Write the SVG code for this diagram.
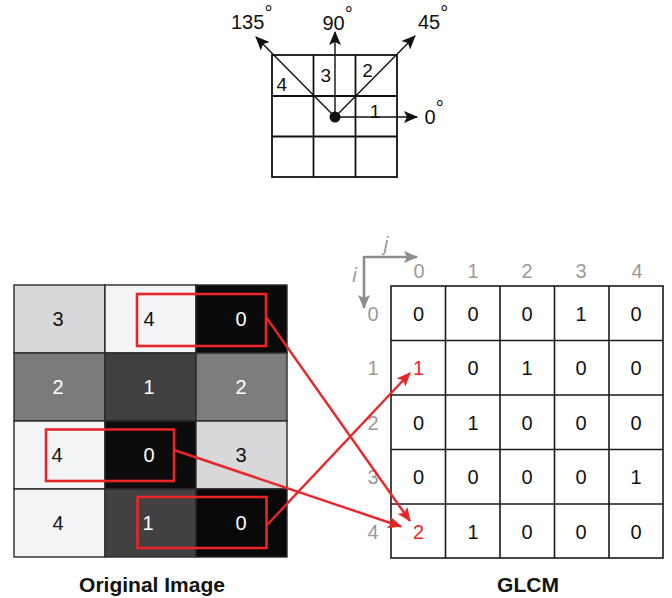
<svg xmlns="http://www.w3.org/2000/svg" width="672" height="598" viewBox="0 0 672 598">
  <style>
    text { font-family: "Liberation Sans", Arial, Helvetica, sans-serif; }
    .num { font-size: 20px; text-anchor: middle; fill: #111; }
    .wnum { font-size: 20px; text-anchor: middle; fill: #fff; }
    .hdr { font-size: 20px; text-anchor: middle; fill: #9a9a9a; }
    .red { fill: #e8262a; }
    .kn { font-size: 19px; text-anchor: middle; fill: #111; }
    .deg { font-size: 20px; fill: #111; }
    .title { font-size: 21px; font-weight: bold; text-anchor: middle; fill: #111; }
    .kline { stroke: #111; stroke-width: 1.4; fill: none; }
    .kgrid { stroke: #111; stroke-width: 1.8; fill: none; }
    .cell { stroke: #2a2a2a; stroke-width: 1.4; }
    .gcell { fill: #fff; stroke: #1a1a1a; stroke-width: 1.6; }
    .sel { fill: none; stroke: #e8262a; stroke-width: 2.6; }
    .link { stroke: #e8262a; stroke-width: 2.4; fill: none; }
    .axis { stroke: #8c8c8c; stroke-width: 2.6; fill: none; }
  </style>
  <defs>
    <marker id="blackHead" markerUnits="userSpaceOnUse" markerWidth="14" markerHeight="12" refX="13" refY="6" orient="auto">
      <path d="M0,0 L14,6 L0,12 L3,6 Z" fill="#111"/>
    </marker>
    <marker id="redHead" markerUnits="userSpaceOnUse" markerWidth="14" markerHeight="12" refX="13" refY="6" orient="auto">
      <path d="M0,0 L14,6 L0,12 L3,6 Z" fill="#e8262a"/>
    </marker>
    <marker id="grayHead" markerUnits="userSpaceOnUse" markerWidth="14" markerHeight="12" refX="13" refY="6" orient="auto">
      <path d="M0,0 L14,6 L0,12 L3,6 Z" fill="#8c8c8c"/>
    </marker>
  </defs>

  <!-- Neighbourhood kernel with the four directions -->
  <g id="kernel">
    <rect class="kgrid" x="272" y="55" width="125" height="122"/>
    <line class="kgrid" x1="313.5" y1="55" x2="313.5" y2="177"/>
    <line class="kgrid" x1="355.5" y1="55" x2="355.5" y2="177"/>
    <line class="kgrid" x1="272" y1="96" x2="397" y2="96"/>
    <line class="kgrid" x1="272" y1="136.5" x2="397" y2="136.5"/>
    <line class="kline" x1="335" y1="117" x2="417" y2="117" marker-end="url(#blackHead)"/>
    <line class="kline" x1="335" y1="117" x2="335" y2="32" marker-end="url(#blackHead)"/>
    <line class="kline" x1="335" y1="117" x2="415" y2="36" marker-end="url(#blackHead)"/>
    <line class="kline" x1="335" y1="117" x2="256" y2="37" marker-end="url(#blackHead)"/>
    <circle cx="335" cy="117" r="5.5" fill="#111"/>
    <text class="kn" x="281.7" y="90.7">4</text>
    <text class="kn" x="325.8" y="81.7">3</text>
    <text class="kn" x="367.5" y="76.7">2</text>
    <text class="kn" x="375" y="118.3">1</text>
    <text class="deg" x="231" y="28.5">135<tspan dy="-9">°</tspan></text>
    <text class="deg" x="322.5" y="30">90<tspan dy="-9">°</tspan></text>
    <text class="deg" x="418" y="28.5">45<tspan dy="-9">°</tspan></text>
    <text class="deg" x="424.5" y="124">0<tspan dy="-9">°</tspan></text>
  </g>

  <!-- Original image: 4 x 3 grey levels -->
  <g id="original-image">
    <rect class="cell" x="14" y="285" width="91" height="68" fill="#d8d8da"/>
    <rect class="cell" x="105" y="285" width="91" height="68" fill="#f2f4f6"/>
    <rect class="cell" x="196" y="285" width="91" height="68" fill="#0a0a0a"/>
    <rect class="cell" x="14" y="353" width="91" height="68" fill="#7b7b7b"/>
    <rect class="cell" x="105" y="353" width="91" height="68" fill="#404040"/>
    <rect class="cell" x="196" y="353" width="91" height="68" fill="#7d7d7d"/>
    <rect class="cell" x="14" y="421" width="91" height="68" fill="#f3f4f6"/>
    <rect class="cell" x="105" y="421" width="91" height="68" fill="#0c0c0c"/>
    <rect class="cell" x="196" y="421" width="91" height="68" fill="#d8d8da"/>
    <rect class="cell" x="14" y="489" width="91" height="68" fill="#f3f4f6"/>
    <rect class="cell" x="105" y="489" width="91" height="68" fill="#414141"/>
    <rect class="cell" x="196" y="489" width="91" height="68" fill="#080808"/>

    <text class="num" x="58" y="326">3</text>
    <text class="num" x="149" y="326">4</text>
    <text class="wnum" x="241" y="326">0</text>
    <text class="wnum" x="58" y="394">2</text>
    <text class="wnum" x="149" y="394">1</text>
    <text class="wnum" x="241" y="394">2</text>
    <text class="num" x="57" y="462">4</text>
    <text class="wnum" x="149" y="462">0</text>
    <text class="num" x="241" y="462">3</text>
    <text class="num" x="58" y="530">4</text>
    <text class="wnum" x="148" y="530">1</text>
    <text class="wnum" x="241" y="530">0</text>

    <rect class="sel" x="137" y="294" width="129" height="52"/>
    <rect class="sel" x="46" y="429.5" width="128" height="51.5"/>
    <rect class="sel" x="137.5" y="497" width="129" height="51"/>

    <text class="title" x="152" y="592" font-size="22">Original Image</text>
  </g>

  <!-- GLCM: 5 x 5 co-occurrence counts -->
  <g id="glcm">
    <line class="axis" x1="364" y1="257" x2="417" y2="257" marker-end="url(#grayHead)"/>
    <line class="axis" x1="364" y1="256" x2="364" y2="308" marker-end="url(#grayHead)"/>
    <text x="386" y="251" font-size="20" font-style="italic" fill="#9a9a9a" text-anchor="middle">j</text>
    <text x="354.5" y="282" font-size="20" font-style="italic" fill="#9a9a9a" text-anchor="middle">i</text>

    <text class="hdr" x="419" y="278">0</text>
    <text class="hdr" x="473" y="278">1</text>
    <text class="hdr" x="527" y="278">2</text>
    <text class="hdr" x="581" y="278">3</text>
    <text class="hdr" x="637" y="278">4</text>

    <text class="hdr" x="373" y="320.5">0</text>
    <text class="hdr" x="373" y="375">1</text>
    <text class="hdr" x="373" y="429.5">2</text>
    <text class="hdr" x="373" y="484">3</text>
    <text class="hdr" x="373" y="538.5">4</text>

    <rect class="gcell" x="391" y="286" width="272" height="272"/>
    <g stroke="#1a1a1a" stroke-width="1.6">
      <line x1="445.5" y1="286" x2="445.5" y2="558"/>
      <line x1="500" y1="286" x2="500" y2="558"/>
      <line x1="554.5" y1="286" x2="554.5" y2="558"/>
      <line x1="609" y1="286" x2="609" y2="558"/>
      <line x1="391" y1="340.5" x2="663" y2="340.5"/>
      <line x1="391" y1="395" x2="663" y2="395"/>
      <line x1="391" y1="449.5" x2="663" y2="449.5"/>
      <line x1="391" y1="504" x2="663" y2="504"/>
    </g>

    <text class="num" x="418.5" y="320.5">0</text>
    <text class="num" x="473" y="320.5">0</text>
    <text class="num" x="527" y="320.5">0</text>
    <text class="num" x="581" y="320.5">1</text>
    <text class="num" x="636" y="320.5">0</text>

    <text class="num red" x="418.5" y="375">1</text>
    <text class="num" x="473" y="375">0</text>
    <text class="num" x="527" y="375">1</text>
    <text class="num" x="581" y="375">0</text>
    <text class="num" x="636" y="375">0</text>

    <text class="num" x="418.5" y="429.5">0</text>
    <text class="num" x="473" y="429.5">1</text>
    <text class="num" x="527" y="429.5">0</text>
    <text class="num" x="581" y="429.5">0</text>
    <text class="num" x="636" y="429.5">0</text>

    <text class="num" x="418.5" y="484">0</text>
    <text class="num" x="473" y="484">0</text>
    <text class="num" x="527" y="484">0</text>
    <text class="num" x="581" y="484">0</text>
    <text class="num" x="636" y="484">1</text>

    <text class="num red" x="418.5" y="538.5">2</text>
    <text class="num" x="473" y="538.5">1</text>
    <text class="num" x="527" y="538.5">0</text>
    <text class="num" x="581" y="538.5">0</text>
    <text class="num" x="636" y="538.5">0</text>

    <text class="title" x="528" y="592">GLCM</text>
  </g>

  <!-- Pairs counted into the matrix -->
  <g id="connectors">
    <line class="link" x1="266" y1="317" x2="410" y2="521" marker-end="url(#redHead)"/>
    <line class="link" x1="174" y1="450" x2="401" y2="526.5" marker-end="url(#redHead)"/>
    <line class="link" x1="267" y1="525" x2="410" y2="373" marker-end="url(#redHead)"/>
  </g>
</svg>
